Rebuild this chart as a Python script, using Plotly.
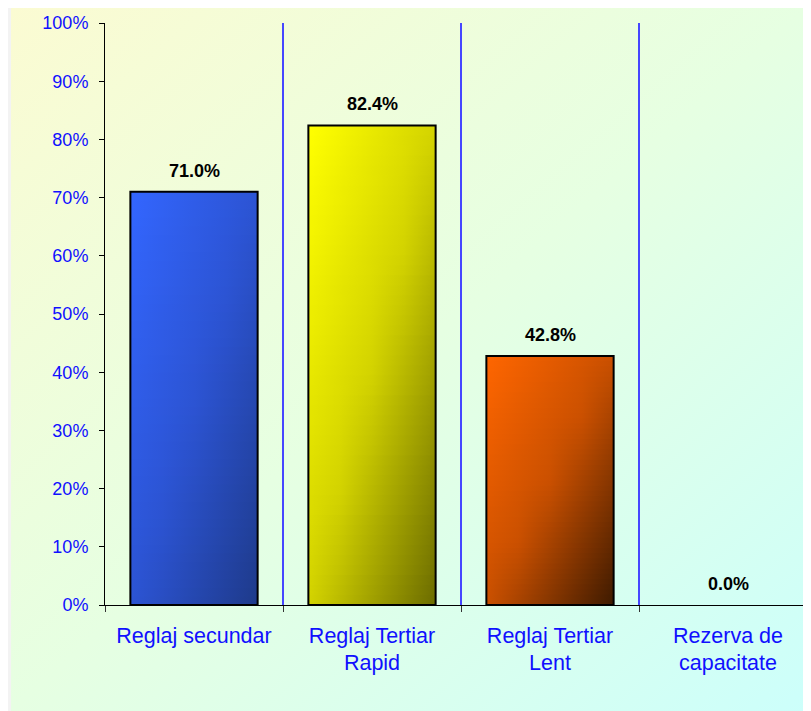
import base64
import plotly.graph_objects as go

# ---------------- data ----------------
categories = ["Reglaj secundar", "Reglaj Tertiar<br>Rapid", "Reglaj Tertiar<br>Lent", "Rezerva de<br>capacitate"]
values = [71.0, 82.4, 42.8, 0.0]
value_labels = ["71.0%", "82.4%", "42.8%", "0.0%"]
y_tick_values = [0, 10, 20, 30, 40, 50, 60, 70, 80, 90, 100]

# gradient stops per bar: (top-left, middle, bottom-right)
bar_gradients = [
    [(51, 102, 255), (44, 84, 212), (30, 58, 138)],
    [(255, 255, 0), (212, 212, 0), (108, 108, 0)],
    [(255, 102, 0), (202, 80, 0), (62, 26, 0)],
    [(200, 200, 200), (150, 150, 150), (90, 90, 90)],
]

FONT = "Liberation Sans, Arial, sans-serif"
BLUE = "#1010ff"
GRID_BLUE = "#4646ff"
BAR_W = 0.715
N_SLICES = 48


def grad_color(stops, t):
    c0, cm, c1 = stops
    if t <= 0.5:
        a, b, f = c0, cm, t / 0.5
    else:
        a, b, f = cm, c1, (t - 0.5) / 0.5
    return "rgb(%d,%d,%d)" % tuple(round(a[k] + (b[k] - a[k]) * f) for k in range(3))


fig = go.Figure()

positions = list(range(len(categories)))

# gradient-filled bars (stacked overlapping slices -> diagonal gradient)
for i, (v, stops) in enumerate(zip(values, bar_gradients)):
    if v <= 0:
        continue
    x0, x1 = i - BAR_W / 2, i + BAR_W / 2
    for j in range(N_SLICES):
        top = v * (1 - j / N_SLICES)
        vfrac = (j + 0.5) / N_SLICES
        us = [0, 0.25, 0.5, 0.75, 1.0]
        cs = [[u, grad_color(stops, (u + vfrac) / 2)] for u in us]
        fig.add_trace(go.Scatter(
            x=[x0, x1, x1, x0, x0], y=[0, 0, top, top, 0],
            mode="lines", fill="toself", line=dict(width=0),
            fillgradient=dict(type="horizontal", colorscale=cs, start=x0, stop=x1),
            hoverinfo="skip", showlegend=False, xaxis="x", yaxis="y",
        ))

# bar outlines (on the label axis, which shares the same scale)
for i, v in enumerate(values):
    if v <= 0:
        continue
    x0, x1 = i - BAR_W / 2, i + BAR_W / 2
    fig.add_trace(go.Scatter(
        x=[x0, x0, x1, x1, x0], y=[0, v, v, 0, 0],
        mode="lines", line=dict(color="black", width=2),
        hoverinfo="skip", showlegend=False, xaxis="x2", yaxis="y",
    ))

# value labels
for i, (v, lab) in enumerate(zip(values, value_labels)):
    fig.add_annotation(
        x=i, y=v, text="<b>%s</b>" % lab, showarrow=False,
        xanchor="center", yanchor="bottom", yshift=9,
        font=dict(family=FONT, size=18, color="black"),
    )

# background gradient image
svg = (
    '<svg xmlns="http://www.w3.org/2000/svg" width="800" height="704" preserveAspectRatio="none">'
    '<defs><linearGradient id="g" x1="0" y1="0" x2="1" y2="1">'
    '<stop offset="0" stop-color="#fbfbd2"/>'
    '<stop offset="0.5" stop-color="#e6ffe2"/>'
    '<stop offset="1" stop-color="#ccfffb"/>'
    '</linearGradient></defs>'
    '<rect width="800" height="704" fill="url(#g)"/></svg>'
)
svg_uri = "data:image/svg+xml;base64," + base64.b64encode(svg.encode()).decode()

# page has an 8px body margin: figure pixel = page pixel - 8
W, H = 803, 703
ML, MR, MT, MB = 97, 0, 15, 106
pw, ph = W - ML - MR, H - MT - MB
img_x0, img_y0 = 3, -1
fig.add_layout_image(
    source=svg_uri, xref="paper", yref="paper",
    x=(img_x0 - ML) / pw, y=(H - MB - img_y0) / ph,
    sizex=(W - img_x0) / pw, sizey=(H - img_y0) / ph,
    xanchor="left", yanchor="top", sizing="stretch", layer="below",
)

unit = 178.0
x_end = -0.5 + pw / unit
boundaries = [p + 0.5 for p in [-1] + positions]

fig.update_layout(
    width=W, height=H, autosize=False,
    margin=dict(l=ML, r=MR, t=MT, b=MB, pad=0),
    paper_bgcolor="#f3f3f3", plot_bgcolor="rgba(0,0,0,0)",
    showlegend=False,
    font=dict(family=FONT, color=BLUE),
    xaxis=dict(
        range=[-0.5, x_end], tickmode="array", tickvals=boundaries,
        ticktext=["" for _ in boundaries],
        ticks="outside", ticklen=6, tickcolor="#333333", tickwidth=1,
        showgrid=True, gridcolor=GRID_BLUE, gridwidth=1.6, zeroline=False,
        showline=True, linecolor="black", linewidth=1,
    ),
    xaxis2=dict(
        overlaying="x", anchor="y", side="bottom",
        range=[-0.5, x_end], tickmode="array", tickvals=positions, ticktext=categories,
        ticks="", showgrid=False, zeroline=False, showline=False,
        tickfont=dict(family=FONT, size=21.5, color=BLUE),
        ticklabelstandoff=15,
    ),
    yaxis=dict(
        range=[0, 100], tickmode="array", tickvals=y_tick_values,
        ticktext=["%d%%" % t for t in y_tick_values],
        ticks="outside", ticklen=5, tickcolor="black", tickwidth=1,
        showgrid=False, zeroline=False,
        showline=True, linecolor="black", linewidth=1,
        tickfont=dict(family=FONT, size=18, color=BLUE),
        ticklabelstandoff=7,
    ),
)

fig.write_html("out.html")
